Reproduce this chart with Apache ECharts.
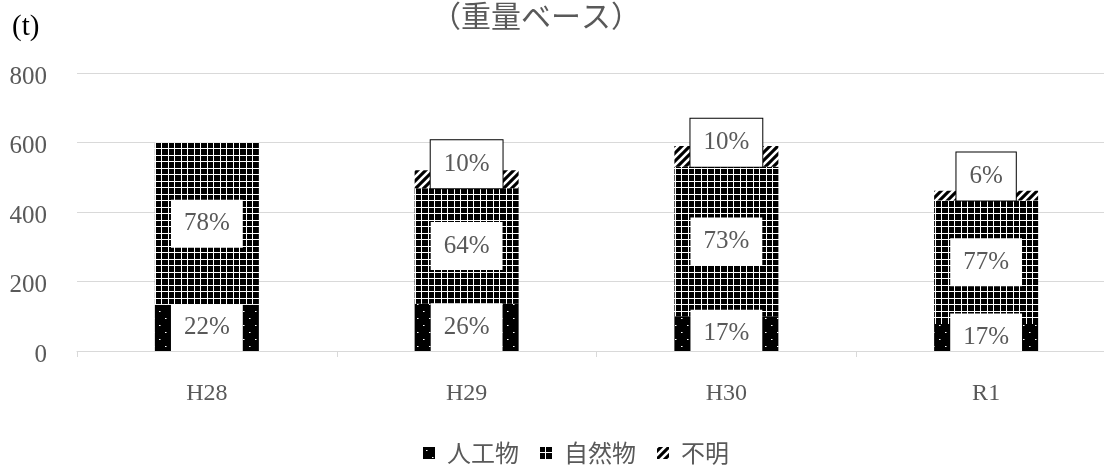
<!DOCTYPE html>
<html><head><meta charset="utf-8">
<script src="https://cdn.jsdelivr.net/npm/echarts@6/dist/echarts.min.js"></script>
<style>html,body{margin:0;padding:0;background:#fff}#c{width:1104px;height:468px}</style>
</head><body><div id="c"></div>
<script>
const categories = ['H28', 'H29', 'H30', 'R1'];
const seriesNames = ['人工物', '自然物', '不明'];
const artificial = [133, 136, 100, 78];
const natural = [467, 332, 430, 355];
const unknown = [0, 52, 60, 28];
const artificialPct = ['22%', '26%', '17%', '17%'];
const naturalPct = ['78%', '64%', '73%', '77%'];
const unknownPct = ['', '10%', '10%', '6%'];
const yMin = 0, yMax = 800, yInterval = 200;
const titleText = '（重量ベース）';
const unitText = '(t)';

function makeCanvas(w, h, draw) {
  const c = document.createElement('canvas');
  c.width = w; c.height = h;
  const g = c.getContext('2d');
  g.fillStyle = '#000'; g.fillRect(0, 0, w, h);
  draw(g, w, h);
  return c;
}
const dotCanvas = makeCanvas(12, 14, function (g) {
  g.fillStyle = '#fff';
  g.fillRect(3, 3, 1, 1);
  g.fillRect(9, 10, 1, 1);
  g.fillStyle = '#888';
  g.fillRect(4, 3, 1, 1);
  g.fillRect(10, 10, 1, 1);
});
const gridCanvas = makeCanvas(13, 13, function (g) {
  g.fillStyle = '#fff';
  g.fillRect(5, 0, 1, 13);
  g.fillRect(12, 0, 1, 13);
  g.fillRect(0, 5, 13, 1);
  g.fillRect(0, 12, 13, 1);
});
const diagCanvas = makeCanvas(8, 8, function (g) {
  g.strokeStyle = '#fff';
  g.lineWidth = 2.6;
  g.beginPath();
  g.moveTo(-1, 9); g.lineTo(9, -1);
  g.moveTo(-5, 5); g.lineTo(5, -5);
  g.moveTo(3, 13); g.lineTo(13, 3);
  g.stroke();
});
const patterns = [
  { image: dotCanvas, repeat: 'repeat' },
  { image: gridCanvas, repeat: 'repeat' },
  { image: diagCanvas, repeat: 'repeat' }
];

const serifFont = 'Liberation Serif';
const baseLabel = {
  show: true,
  position: 'inside',
  fontFamily: serifFont,
  fontSize: 25,
  lineHeight: 26,
  color: '#595959',
  backgroundColor: '#fff',
  padding: [11, 13]
};

const chart = echarts.init(document.getElementById('c'), null, { renderer: 'canvas' });
chart.setOption({
  animation: false,
  backgroundColor: '#fff',
  title: {
    text: titleText,
    left: 536,
    top: 0,
    padding: 0,
    textAlign: 'center',
    textStyle: { fontSize: 30, fontWeight: 'normal', fontFamily: 'Noto Sans CJK JP', color: '#595959', lineHeight: 32 }
  },
  graphic: [
    { type: 'text', x: 12, y: 27, style: { text: unitText, fontSize: 29, fontFamily: 'Liberation Serif', fill: '#000', textAlign: 'left', textVerticalAlign: 'middle' } }
  ],
  legend: {
    data: seriesNames,
    left: 423,
    top: 441,
    padding: 0,
    itemWidth: 12,
    itemHeight: 12,
    itemGap: 21,
    icon: 'rect',
    textStyle: { fontFamily: 'Noto Sans CJK JP', fontSize: 24, color: '#595959', padding: [0, 0, 0, 7] }
  },
  grid: { left: 77, top: 73, width: 1039, height: 278, containLabel: false, outerBoundsMode: 'none' },
  xAxis: {
    type: 'category',
    data: categories,
    z: 10,
    axisLine: { show: true, lineStyle: { color: '#d9d9d9', width: 1 } },
    axisTick: { show: true, length: 6, interval: 0, lineStyle: { color: '#d9d9d9' } },
    axisLabel: { margin: 31, fontFamily: serifFont, fontSize: 24, color: '#595959' },
    splitLine: { show: false }
  },
  yAxis: {
    type: 'value',
    min: yMin, max: yMax, interval: yInterval,
    axisLine: { show: false },
    axisTick: { show: false },
    axisLabel: { margin: 30, fontFamily: serifFont, fontSize: 25, color: '#595959', verticalAlign: 'top', lineHeight: 8 },
    splitLine: { lineStyle: { color: '#d9d9d9', width: 1 } }
  },
  series: [
    {
      name: seriesNames[0], type: 'bar', stack: 'total', barWidth: 104,
      itemStyle: { color: patterns[0] },
      label: Object.assign({}, baseLabel, { formatter: function (p) { return artificialPct[p.dataIndex]; } }),
      data: artificial
    },
    {
      name: seriesNames[1], type: 'bar', stack: 'total', barWidth: 104,
      itemStyle: { color: patterns[1] },
      label: Object.assign({}, baseLabel, { formatter: function (p) { return naturalPct[p.dataIndex]; } }),
      data: natural
    },
    {
      name: seriesNames[2], type: 'bar', stack: 'total', barWidth: 104,
      itemStyle: { color: patterns[2] },
      label: Object.assign({}, baseLabel, {
        position: 'insideBottom', distance: 0,
        borderColor: '#000', borderWidth: 1,
        formatter: function (p) { return unknownPct[p.dataIndex]; }
      }),
      data: unknown.map(function (v) { return { value: v, label: { show: v > 0 } }; })
    }
  ]
});
</script>
</body></html>
